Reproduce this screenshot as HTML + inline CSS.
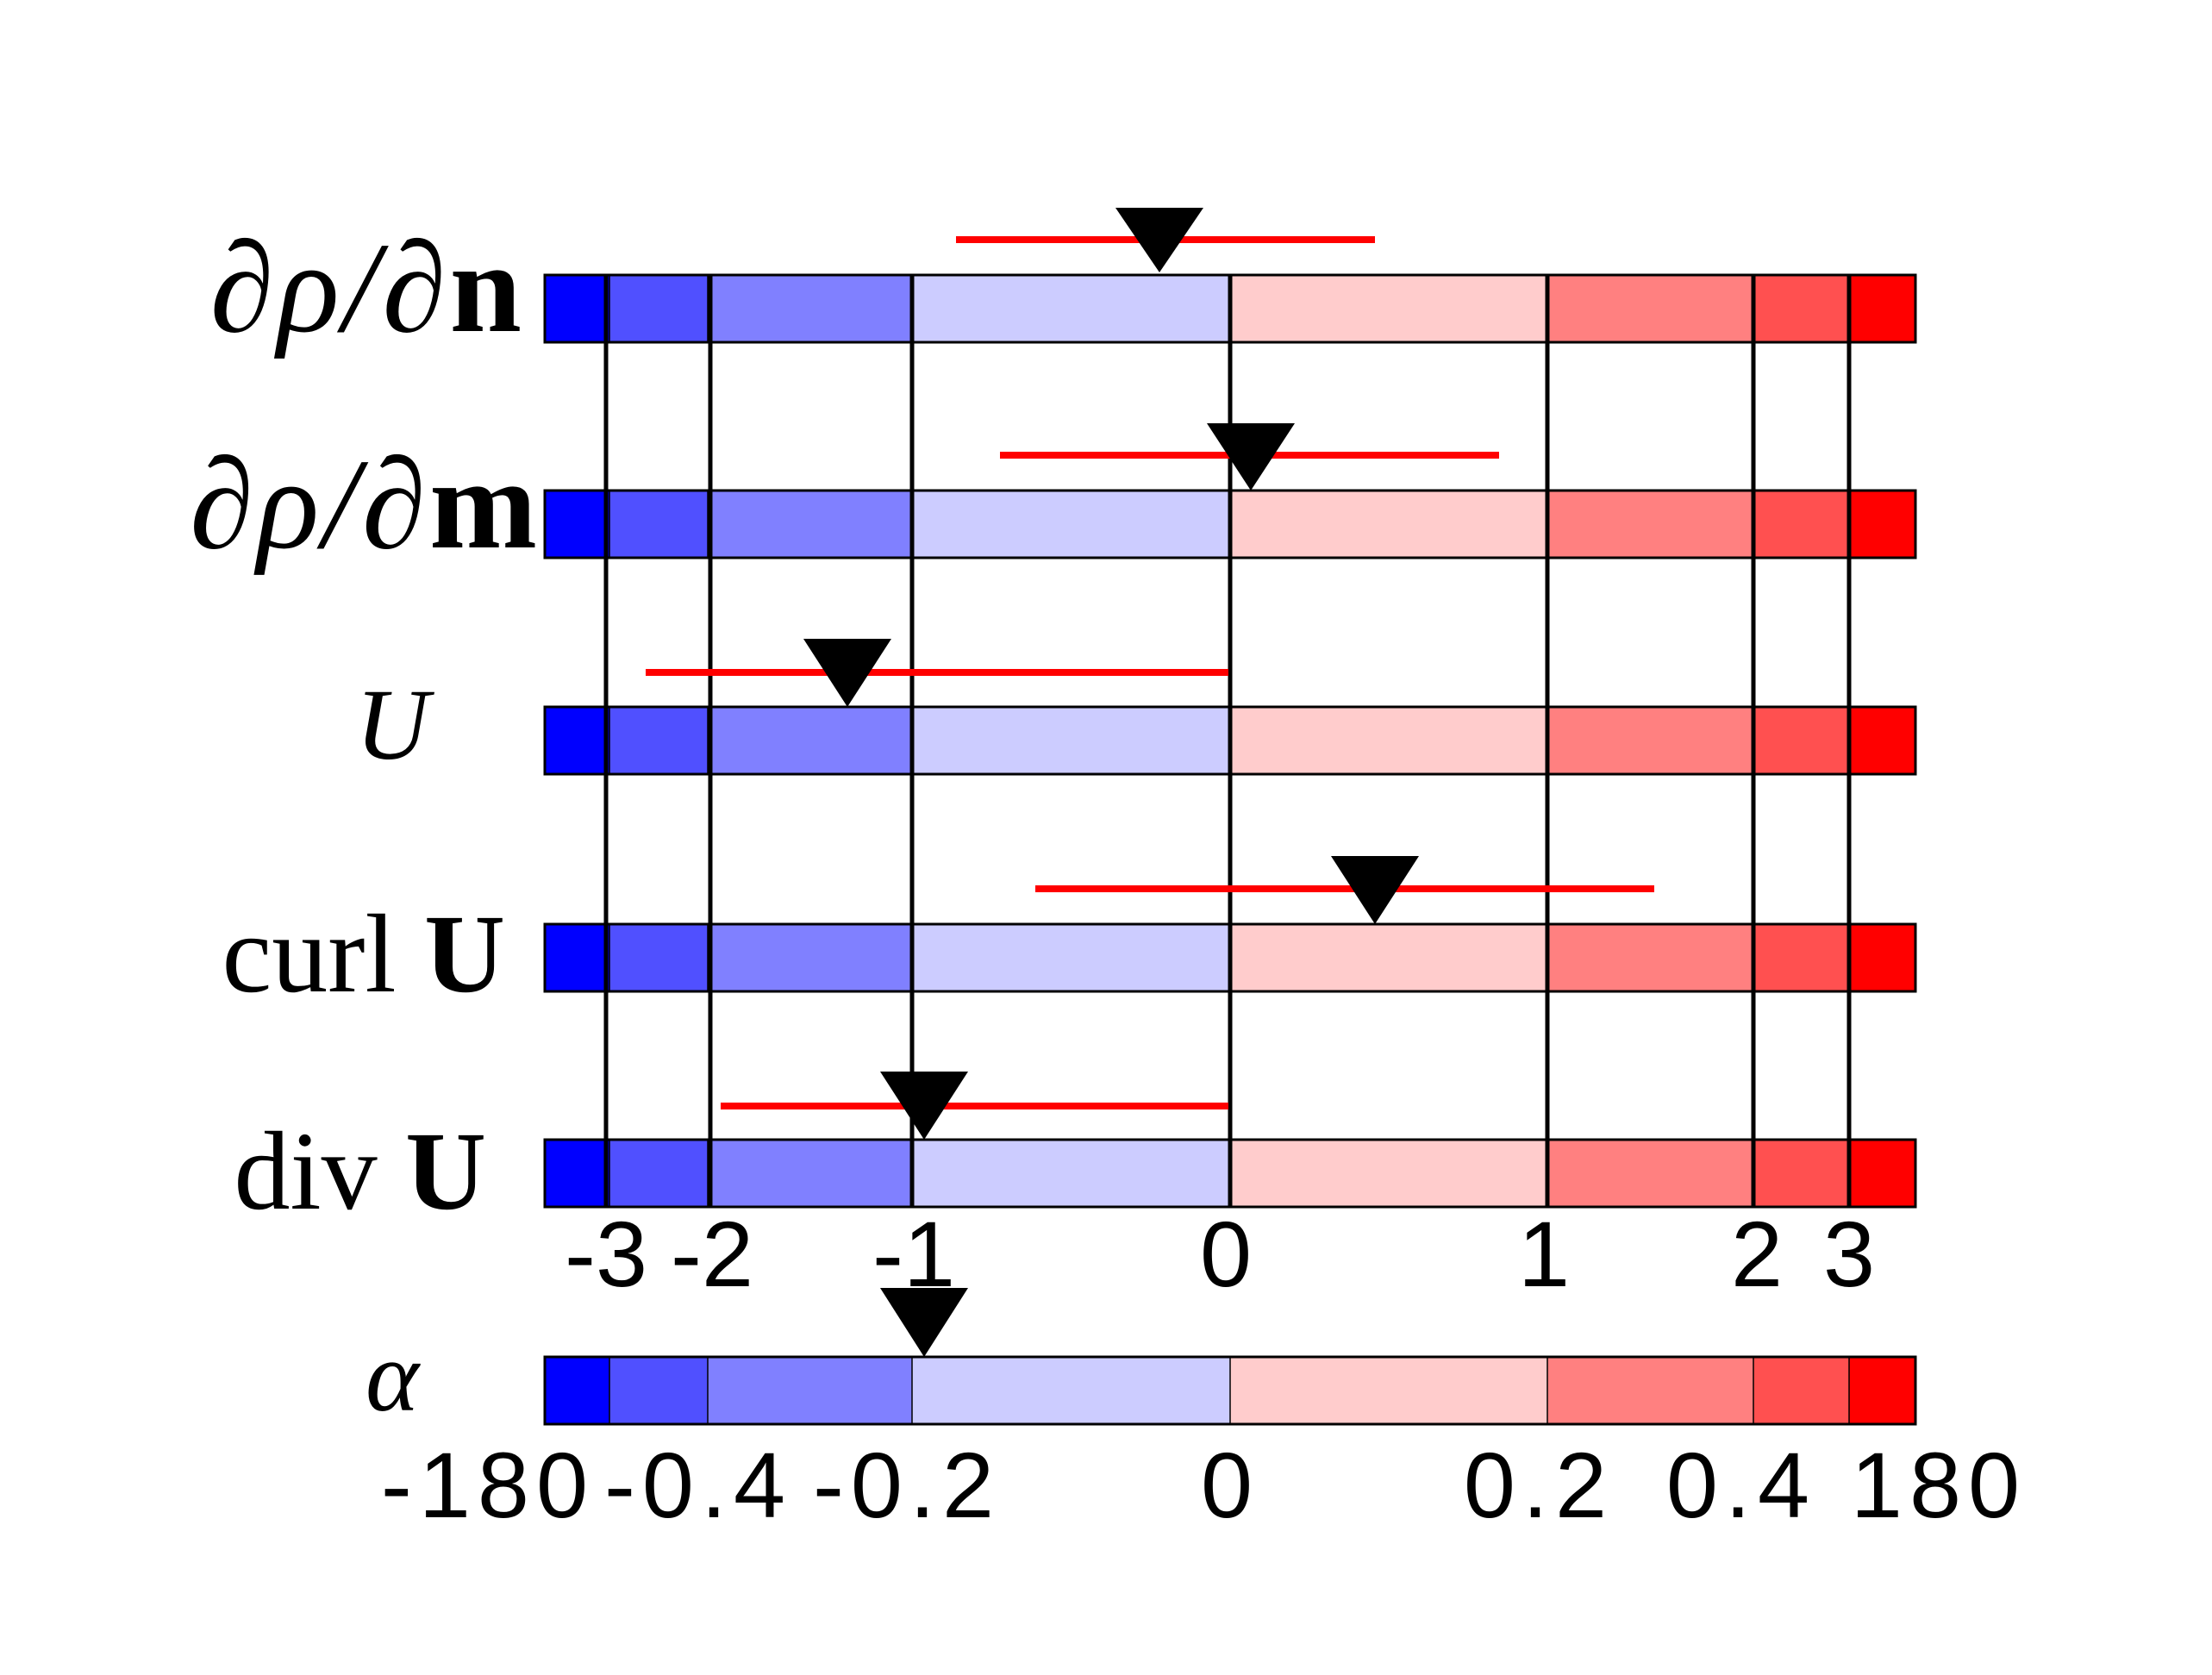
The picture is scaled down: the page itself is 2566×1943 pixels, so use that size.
<!DOCTYPE html>
<html><head><meta charset="utf-8"><style>html,body{margin:0;padding:0;background:#fff}svg{display:block}</style></head>
<body>
<svg width="2566" height="1943" viewBox="0 0 2566 1943" xmlns="http://www.w3.org/2000/svg">
<defs>
<g id="bar">
<rect x="632" y="0" width="75" height="78" fill="#0000FF"/>
<rect x="707" y="0" width="114" height="78" fill="#5050FF"/>
<rect x="821" y="0" width="237" height="78" fill="#8080FF"/>
<rect x="1058" y="0" width="369" height="78" fill="#CCCCFF"/>
<rect x="1427" y="0" width="368" height="78" fill="#FFCCCC"/>
<rect x="1795" y="0" width="239" height="78" fill="#FF8080"/>
<rect x="2034" y="0" width="111" height="78" fill="#FF5050"/>
<rect x="2145" y="0" width="77" height="78" fill="#FF0000"/>
<g stroke="#000" stroke-width="1.5"><line x1="707" y1="0" x2="707" y2="78"/><line x1="821" y1="0" x2="821" y2="78"/><line x1="1058" y1="0" x2="1058" y2="78"/><line x1="1427" y1="0" x2="1427" y2="78"/><line x1="1795" y1="0" x2="1795" y2="78"/><line x1="2034" y1="0" x2="2034" y2="78"/><line x1="2145" y1="0" x2="2145" y2="78"/></g>
<rect x="632" y="0" width="1590" height="78" fill="none" stroke="#000" stroke-width="3"/>
</g>
</defs>
<use href="#bar" y="319"/>
<use href="#bar" y="569"/>
<use href="#bar" y="820"/>
<use href="#bar" y="1072"/>
<use href="#bar" y="1322"/>
<use href="#bar" y="1574"/>
<g stroke="#000" stroke-width="5">
<line x1="703" y1="320" x2="703" y2="1400"/>
<line x1="824" y1="320" x2="824" y2="1400"/>
<line x1="1058" y1="320" x2="1058" y2="1400"/>
<line x1="1427" y1="320" x2="1427" y2="1400"/>
<line x1="1795" y1="320" x2="1795" y2="1400"/>
<line x1="2034" y1="320" x2="2034" y2="1400"/>
<line x1="2145" y1="320" x2="2145" y2="1400"/>
</g>
<g stroke="#FF0000" stroke-width="8">
<line x1="1109" y1="278" x2="1595" y2="278"/>
<line x1="1160" y1="528" x2="1739" y2="528"/>
<line x1="749" y1="780" x2="1425" y2="780"/>
<line x1="1201" y1="1031" x2="1919" y2="1031"/>
<line x1="836" y1="1283" x2="1425" y2="1283"/>
</g>
<g fill="#000">
<polygon points="1294,241 1396,241 1345,316"/>
<polygon points="1400,491 1502,491 1451,569"/>
<polygon points="932,741 1034,741 983,820"/>
<polygon points="1544,993 1646,993 1595,1072"/>
<polygon points="1021,1243 1123,1243 1072,1322"/>
<polygon points="1021,1494 1123,1494 1072,1574"/>
</g>
<g font-family="Liberation Serif, serif" fill="#000">
<text x="609" y="384" text-anchor="end" font-size="150" letter-spacing="4"><tspan font-style="italic">∂ρ/∂</tspan><tspan font-weight="bold">n</tspan></text>
<text x="627" y="635" text-anchor="end" font-size="150" letter-spacing="4"><tspan font-style="italic">∂ρ/∂</tspan><tspan font-weight="bold">m</tspan></text>
<text x="455" y="880" text-anchor="middle" font-style="italic" font-size="118">U</text>
<text x="586" y="1150" text-anchor="end" font-size="130">curl <tspan font-weight="bold">U</tspan></text>
<text x="564" y="1402" text-anchor="end" font-size="130">div <tspan font-weight="bold">U</tspan></text>
<text x="455" y="1636" text-anchor="middle" font-style="italic" font-size="118">α</text>
</g>
<g font-family="Liberation Sans, sans-serif" font-size="108" fill="#000" text-anchor="middle">
<text x="703" y="1492">-3</text>
<text x="826" y="1492">-2</text>
<text x="1060" y="1492">-1</text>
<text x="1422" y="1492">0</text>
<text x="1791" y="1492">1</text>
<text x="2038" y="1492">2</text>
<text x="2145" y="1492">3</text>
</g>
<g font-family="Liberation Sans, sans-serif" font-size="108" fill="#000" text-anchor="middle" letter-spacing="8">
<text x="566" y="1760">-180</text>
<text x="810" y="1760">-0.4</text>
<text x="1052" y="1760">-0.2</text>
<text x="1427" y="1760">0</text>
<text x="1785" y="1760">0.2</text>
<text x="2020" y="1760">0.4</text>
<text x="2249" y="1760">180</text>
</g>
</svg>
</body></html>
